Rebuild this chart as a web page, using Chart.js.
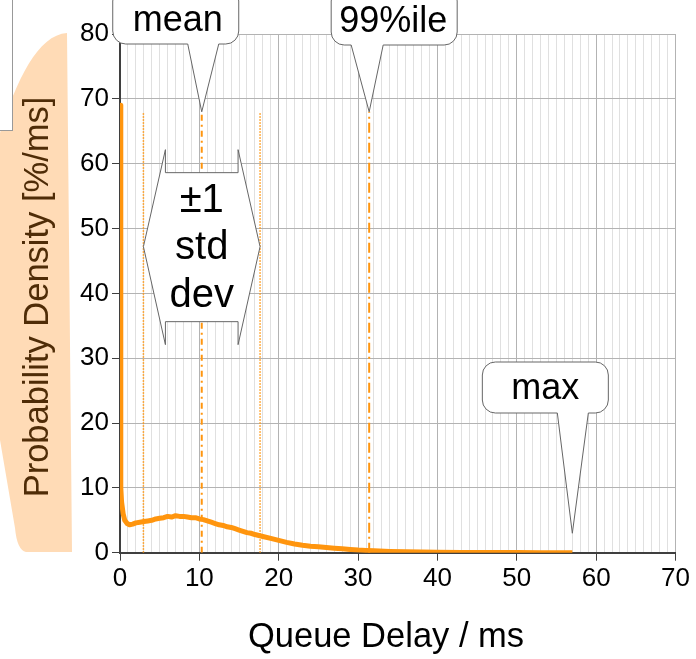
<!DOCTYPE html>
<html><head><meta charset="utf-8">
<script src="https://cdn.jsdelivr.net/npm/chart.js@4"></script>
<style>html,body{margin:0;padding:0;background:#fff}#wrap{width:696px;height:659px}</style>
</head><body><div id="wrap"><canvas id="c" width="696" height="659"></canvas></div>
<script>
// ---- data ----
const delayMs = [0, 0.1, 0.2, 0.4, 0.6, 0.9, 1.2, 1.6, 2, 2.5, 3, 3.5, 4, 4.5, 5, 5.5, 6, 6.5, 7, 7.5, 8, 8.5, 9, 9.5, 10, 10.5, 11, 11.5, 12, 12.5, 13, 13.5, 14, 14.5, 15, 15.5, 16, 16.5, 17, 17.5, 18, 19, 20, 21, 22, 23, 24, 25, 26, 27, 28, 29, 30, 31, 32, 34, 36, 38, 40, 43, 46, 50, 53, 57];
const densityPct = [69, 10, 7.8, 6.0, 5.0, 4.5, 4.3, 4.4, 4.6, 4.7, 4.8, 4.9, 5.0, 5.2, 5.3, 5.4, 5.6, 5.5, 5.7, 5.6, 5.6, 5.5, 5.4, 5.4, 5.2, 5.1, 4.9, 4.7, 4.5, 4.3, 4.2, 4.0, 3.9, 3.7, 3.5, 3.3, 3.1, 3.0, 2.8, 2.65, 2.5, 2.2, 1.9, 1.6, 1.35, 1.15, 1.0, 0.9, 0.8, 0.7, 0.6, 0.5, 0.4, 0.35, 0.3, 0.2, 0.15, 0.1, 0.07, 0.05, 0.03, 0.02, 0.01, 0.01];
const statMean = 10.3;
const statStdLow = 2.95;
const statStdHigh = 17.65;
const statP99 = 31.4;
const statMax = 57;
const markerTop = 68;
const calloutLabels = ['mean', '99%ile', 'max'];
const stdLabelLines = ['±1', 'std', 'dev'];
const xTickLabels = ['0', '10', '20', '30', '40', '50', '60', '70'];
const yTickLabels = ['0', '10', '20', '30', '40', '50', '60', '70', '80'];
const xTitle = 'Queue Delay / ms';
const yTitle = 'Probability Density [%/ms]';

const ORANGE = '#ff950e';
const FONT = '"Liberation Sans", Arial, sans-serif';

function vline(x, dash, width) {
  return {
    data: [{x: x, y: 0}, {x: x, y: markerTop}],
    borderColor: ORANGE, borderWidth: width, borderDash: dash,
    pointRadius: 0, tension: 0, fill: false, order: 2
  };
}

function callout(ctx, l, t, r, b, rad, baseL, baseR, tipX, tipY) {
  ctx.beginPath();
  ctx.moveTo(l + rad, t);
  ctx.lineTo(r - rad, t);
  ctx.arcTo(r, t, r, t + rad, rad);
  ctx.lineTo(r, b - rad);
  ctx.arcTo(r, b, r - rad, b, rad);
  ctx.lineTo(baseR, b);
  ctx.lineTo(tipX, tipY);
  ctx.lineTo(baseL, b);
  ctx.lineTo(l + rad, b);
  ctx.arcTo(l, b, l, b - rad, rad);
  ctx.lineTo(l, t + rad);
  ctx.arcTo(l, t, l + rad, t, rad);
  ctx.closePath();
  ctx.fillStyle = '#fff';
  ctx.fill();
  ctx.strokeStyle = '#666';
  ctx.lineWidth = 1;
  ctx.stroke();
}

const bgPlugin = {
  id: 'bg',
  beforeDraw(chart) {
    const ctx = chart.ctx;
    ctx.save();
    ctx.fillStyle = '#fff';
    ctx.fillRect(0, 0, chart.width, chart.height);
    // peach backdrop behind the y-axis title
    ctx.beginPath();
    ctx.moveTo(67, 33);
    ctx.lineTo(72, 552);
    ctx.lineTo(26, 552);
    ctx.quadraticCurveTo(17, 550, 15, 528);
    ctx.lineTo(0, 440);
    ctx.lineTo(-5, 440);
    ctx.lineTo(-5, 150);
    ctx.bezierCurveTo(12, 90, 35, 35, 67, 33);
    ctx.closePath();
    ctx.fillStyle = '#ffdbb6';
    ctx.fill();
    // white box at top-left
    ctx.fillStyle = '#fff';
    ctx.fillRect(-10, -10, 22.5, 140.5);
    ctx.strokeStyle = '#999';
    ctx.lineWidth = 1;
    ctx.strokeRect(-10, -10, 22.5, 140.5);
    // y-axis title
    ctx.translate(38, 297);
    ctx.rotate(-Math.PI / 2);
    ctx.textAlign = 'center';
    ctx.textBaseline = 'middle';
    ctx.fillStyle = '#4f2c07';
    ctx.font = '34.5px ' + FONT;
    ctx.fillText(yTitle, 0, 0);
    ctx.restore();
  },
  afterDraw(chart) {
    const ctx = chart.ctx;
    ctx.save();
    ctx.textAlign = 'center';
    ctx.textBaseline = 'middle';
    ctx.fillStyle = '#000';
    ctx.font = '34.5px ' + FONT;
    ctx.fillText(xTitle, 386, 637);
    ctx.restore();
  }
};

const calloutPlugin = {
  id: 'callouts',
  afterDatasetsDraw(chart) {
    const ctx = chart.ctx;
    const xs = chart.scales.x, ys = chart.scales.y;
    ctx.save();
    ctx.textAlign = 'center';
    ctx.textBaseline = 'middle';
    ctx.fillStyle = '#000';

    // mean
    let tx = xs.getPixelForValue(statMean), ty = ys.getPixelForValue(markerTop);
    callout(ctx, tx - 89, -12, tx + 37, 44, 13, tx - 14, tx + 17, tx, ty);
    ctx.fillStyle = '#000';
    ctx.font = '36px ' + FONT;
    ctx.fillText(calloutLabels[0], tx - 24, 21);

    // 99%ile
    tx = xs.getPixelForValue(statP99);
    callout(ctx, tx - 38, -12, tx + 88, 45, 13, tx - 18, tx + 14, tx, ty);
    ctx.fillStyle = '#000';
    ctx.fillText(calloutLabels[1], tx + 24, 22);

    // max
    tx = xs.getPixelForValue(statMax);
    const ty2 = ys.getPixelForValue(3);
    callout(ctx, tx - 90, 362, tx + 36, 413, 13, tx - 15, tx + 16, tx, ty2);
    ctx.fillStyle = '#000';
    ctx.fillText(calloutLabels[2], tx - 27, 389);

    // +-1 std dev double-arrow box
    const lx = xs.getPixelForValue(statStdLow), rx = xs.getPixelForValue(statStdHigh);
    const cy = ys.getPixelForValue(47.2);
    const il = lx + 22, ir = rx - 22;
    ctx.beginPath();
    ctx.moveTo(il, cy - 97);
    ctx.lineTo(lx, cy);
    ctx.lineTo(il, cy + 98);
    ctx.lineTo(il, cy + 75);
    ctx.lineTo(ir, cy + 75);
    ctx.lineTo(ir, cy + 98);
    ctx.lineTo(rx, cy);
    ctx.lineTo(ir, cy - 97);
    ctx.lineTo(ir, cy - 74);
    ctx.lineTo(il, cy - 74);
    ctx.closePath();
    ctx.fillStyle = '#fff';
    ctx.fill();
    ctx.strokeStyle = '#666';
    ctx.lineWidth = 1;
    ctx.stroke();
    ctx.fillStyle = '#000';
    ctx.font = '40px ' + FONT;
    const cx = (lx + rx) / 2;
    ctx.fillText(stdLabelLines[0], cx, cy - 46);
    ctx.fillText(stdLabelLines[1], cx, cy + 1);
    ctx.fillText(stdLabelLines[2], cx, cy + 49);
    ctx.restore();
  }
};

new Chart(document.getElementById('c'), {
  type: 'line',
  data: {
    datasets: [
      {
        data: delayMs.map((x, i) => ({x: x, y: densityPct[i]})),
        borderColor: ORANGE, borderWidth: 5, pointRadius: 0, tension: 0,
        fill: false, order: 1, borderJoinStyle: 'round'
      },
      vline(statStdLow, [1.5, 1.5], 1.5),
      vline(statStdHigh, [1.5, 1.5], 1.5),
      vline(statMean, [6, 4, 2, 4], 2),
      vline(statP99, [10, 4, 2, 4], 2)
    ]
  },
  options: {
    responsive: false,
    animation: false,
    devicePixelRatio: 1,
    layout: {padding: {top: 34, right: 20.5, left: 0, bottom: 0}},
    plugins: {legend: {display: false}, tooltip: {enabled: false}},
    scales: {
      x: {
        type: 'linear', min: 0, max: 70,
        afterFit(s) { s.height = 106.3; },
        border: {color: '#3f3f3f', width: 2},
        grid: {
          color: c => (c.tick && c.tick.value % 10 === 0) ? '#b3b3b3' : '#e0e0e0',
          tickColor: c => (c.tick && c.tick.value % 10 === 0) ? '#3f3f3f' : 'rgba(0,0,0,0)',
          tickLength: 8, lineWidth: 1
        },
        ticks: {
          stepSize: 1, autoSkip: false, maxRotation: 0, padding: 3,
          color: '#000', font: {family: FONT, size: 26},
          callback: v => (v % 10 === 0) ? xTickLabels[v / 10] : ''
        },
        title: {display: false}
      },
      y: {
        min: 0, max: 80,
        afterFit(s) { s.width = 120; },
        border: {color: '#3f3f3f', width: 2},
        grid: {color: '#b3b3b3', tickColor: '#3f3f3f', tickLength: 8, lineWidth: 1},
        ticks: {
          stepSize: 10, padding: 3, color: '#000', font: {family: FONT, size: 26},
          callback: v => yTickLabels[v / 10]
        },
        title: {display: false}
      }
    }
  },
  plugins: [bgPlugin, calloutPlugin]
});
</script>
</body></html>
